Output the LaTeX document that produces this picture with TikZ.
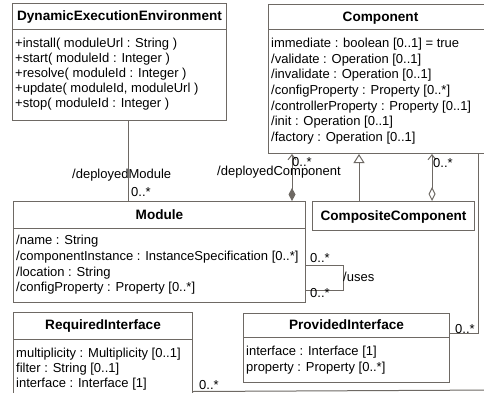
\documentclass[tikz,border=0pt]{standalone}
\usepackage{fontspec}
\setmainfont{Liberation Sans}
\usetikzlibrary{positioning, arrows.meta, calc}
\definecolor{umlgray}{RGB}{110,105,100}

\begin{document}
\begin{tikzpicture}[x=1pt, y=-1pt,
    umlbox/.style={draw=umlgray, fill=white, line width=1pt, anchor=north west, inner sep=0pt},
    title/.style={font=\fontsize{13.6}{15}\selectfont\bfseries, anchor=base, inner sep=0pt},
    attr/.style={font=\fontsize{13}{15}\selectfont, anchor=base west, inner sep=0pt},
    mult/.style={font=\fontsize{13}{15}\selectfont, anchor=west, inner sep=0pt},
    link/.style={draw=umlgray, line width=1pt}]
        \fill[white] (0,0) rectangle (484,393);
        \useasboundingbox (0,0) rectangle (484,393);

        % classes
        \node[umlbox, minimum width=214pt, minimum height=117pt] (dee)    at (12,3)    {};
        \node[umlbox, minimum width=224pt, minimum height=149pt] (comp)   at (268,4)   {};
        \node[umlbox, minimum width=162pt, minimum height=29pt]  (cc)     at (312,201) {};
        \node[umlbox, minimum width=292pt, minimum height=101pt] (module) at (13,201)  {};
        \node[umlbox, minimum width=179pt, minimum height=110pt] (ri)     at (13,312)  {};
        \node[umlbox, minimum width=206pt, minimum height=69pt]  (pi)     at (243,313) {};

        \draw[link] ([yshift=-27pt]dee.north west)    -- ([yshift=-27pt]dee.north east);
        \draw[link] ([yshift=-26pt]comp.north west)   -- ([yshift=-26pt]comp.north east);
        \draw[link] ([yshift=-27pt]module.north west) -- ([yshift=-27pt]module.north east);
        \draw[link] ([yshift=-27pt]ri.north west)     -- ([yshift=-27pt]ri.north east);
        \draw[link] ([yshift=-24pt]pi.north west)     -- ([yshift=-24pt]pi.north east);

        \node[title] at ($(dee.north)+(0,18)$)    {DynamicExecutionEnvironment};
        \node[title] at ($(comp.north)+(0,18)$)   {Component};
        \node[title] at ($(cc.north)+(0,19)$)     {CompositeComponent};
        \node[title] at ($(module.north)+(0,18)$) {Module};
        \node[title] at ($(ri.north)+(0,17)$)     {RequiredInterface};
        \node[title] at ($(pi.north)+(0,16)$)     {ProvidedInterface};

        \foreach \attr [count=\i] in {{+install( moduleUrl : String )}, {+start( moduleId : Integer )},
            {+resolve( moduleId : Integer )}, {+update( moduleId, moduleUrl )}, {+stop( moduleId : Integer )}}
          \node[attr] at ($(dee.north west)+(3,{44.5+14.9*(\i-1)})$) {\attr};
        \foreach \attr [count=\i] in {{immediate : boolean [0..1] = true}, {/validate : Operation [0..1]},
            {/invalidate : Operation [0..1]}, {/configProperty : Property [0..*]},
            {/controllerProperty : Property [0..1]}, {/init : Operation [0..1]}, {/factory : Operation [0..1]}}
          \node[attr] at ($(comp.north west)+(3,{43.8+15.6*(\i-1)})$) {\attr};
        \foreach \attr [count=\i] in {{/name : String}, {/componentInstance : InstanceSpecification [0..*]},
            {/location : String}, {/configProperty : Property [0..*]}}
          \node[attr] at ($(module.north west)+(3,{43.5+15.8*(\i-1)})$) {\attr};
        \foreach \attr [count=\i] in {{multiplicity : Multiplicity [0..1]}, {filter : String [0..1]},
            {interface : Interface [1]}}
          \node[attr] at ($(ri.north west)+(3,{45.5+15*(\i-1)})$) {\attr};
        \foreach \attr [count=\i] in {{interface : Interface [1]}, {property : Property [0..*]}}
          \node[attr] at ($(pi.north west)+(3,{42+16*(\i-1)})$) {\attr};

        % associations
        \coordinate (dm)  at ([xshift=9pt]dee.south);
        \coordinate (dc)  at ([xshift=-14pt]module.north east);
        \coordinate (gen) at ([xshift=47pt]cc.north west);
        \coordinate (agg) at ([xshift=-43pt]cc.north east);
        \coordinate (offr) at (500,390);

        \draw[link] (dm) -- (dm |- module.north);
        \draw[link, {Diamond[length=13pt, width=7pt]}-{Straight Barb[length=5pt, width=8pt]}]
          (dc) -- (dc |- comp.south);
        \draw[link, -{Triangle[open, length=9pt, width=11pt]}] (gen) -- (gen |- comp.south);
        \draw[link, {Diamond[open, length=14pt, width=7pt]}-{Straight Barb[length=5pt, width=8pt]}]
          (agg) -- (agg |- comp.south);
        \draw[link] ([yshift=-13.5pt]module.east) -- ++(37,0) |- ([yshift=-38.5pt]module.east);
        \draw[link] ([xshift=-15pt]comp.south east) |- ([yshift=14.5pt]pi.east);
        \draw[link] ([yshift=-24pt]ri.east) -- (offr);

        % role names and multiplicities
        \node[mult] (dmlabel) at (72,175)  {/deployedModule};
        \node[mult] (dmmult)  at (131,192) {0..*};
        \node[mult] (dclabel) at (217,172) {/deployedComponent};
        \node[mult] (dcmult)  at (292,162) {0..*};
        \node[mult] (aggmult) at (433,163) {0..*};
        \node[mult] (usest)   at (310,258) {0..*};
        \node[mult] (usesb)   at (310,293) {0..*};
        \node[mult] (uses)    at (343,277) {/uses};
        \node[mult] (pimult)  at (455,329) {0..*};
        \node[mult] (rimult)  at (199,385) {0..*};
      \end{tikzpicture}
\end{document}
